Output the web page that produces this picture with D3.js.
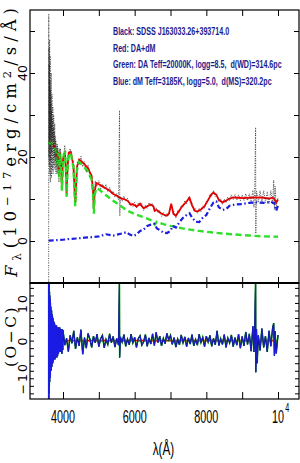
<!DOCTYPE html>
<html>
<head>
<meta charset="utf-8">
<script src="https://cdn.jsdelivr.net/npm/d3@7"></script>
<style>
  body { margin: 0; background: #fff; }
  svg { display: block; }
</style>
</head>
<body>
<svg id="chart" width="300" height="463"></svg>
<script>
// ---- data ----
const wavelengthDomain = [3079, 10586];
const fluxDomain = [-10, 55];
const residualDomain = [-15.5, 15.3];

const wavelengthTicks = [4000, 5000, 6000, 7000, 8000, 9000, 10000];
const wavelengthLabels = [4000, 6000, 8000, 10000];
const fluxTicks = [0, 10, 20, 30, 40, 50];
const fluxLabels = [0, 20, 40];
const residualTicks = [-14, -12, -10, -8, -6, -4, -2, 0, 2, 4, 6, 8, 10, 12, 14];
const residualLabels = [-10, 0, 10];

const legendLines = [
  'Black: SDSS J163033.26+393714.0',
  'Red: DA+dM',
  'Green: DA Teff=20000K, logg=8.5,  d(WD)=314.6pc',
  'Blue: dM Teff=3185K, logg=5.0,  d(MS)=320.2pc'
];

// DA white dwarf model (green dashed)
const daModel = [
  [3600, 23], [3650, 23.5], [3700, 23], [3750, 22.5], [3800, 21.5], [3835, 18], [3860, 21],
  [3889, 15], [3920, 21], [3970, 12], [4020, 20.5], [4060, 21], [4080, 17], [4101, 10.5],
  [4125, 17], [4160, 20.8], [4220, 20.8], [4290, 17.5], [4340, 8.3], [4390, 17], [4450, 18.8],
  [4550, 18], [4700, 16.5], [4800, 14.5], [4840, 11], [4861, 6.5], [4885, 11], [4930, 12.6],
  [5000, 12.3], [5200, 10.9], [5400, 9.6], [5600, 8.4], [5800, 7.2], [6000, 6.4], [6300, 5.5],
  [6500, 4.8], [6563, 3.9], [6620, 4.6], [6800, 4.0], [7000, 3.6], [7400, 2.9], [7800, 2.4],
  [8200, 2.0], [8700, 1.6], [9200, 1.3], [9600, 1.1], [10000, 1.0]
];

// dM model (blue dash-dot)
const dmModel = [
  [3600, 0.1], [3800, 0.2], [4000, 0.3], [4200, 0.5], [4400, 0.6], [4600, 0.8], [4800, 0.9],
  [5000, 1.1], [5200, 1.6], [5400, 1.3], [5500, 1.5], [5650, 1.8], [5770, 2.1], [5850, 1.6],
  [5950, 1.2], [6050, 1.5], [6150, 2.4], [6250, 2.7], [6350, 3.6], [6450, 3.9], [6550, 4.1],
  [6620, 3.0], [6700, 2.6], [6800, 2.0], [6900, 1.9], [7000, 2.4], [7060, 3.6], [7150, 3.2],
  [7250, 4.5], [7350, 5.5], [7450, 6.2], [7530, 6.6], [7600, 5.6], [7700, 4.6], [7800, 4.5],
  [7900, 5.5], [8000, 6.2], [8100, 7.8], [8200, 9.2], [8280, 9.4], [8350, 8.0], [8450, 7.4],
  [8550, 7.6], [8650, 8.4], [8800, 8.7], [9000, 8.8], [9200, 9.1], [9400, 9.2], [9600, 9.1],
  [9800, 9.3], [9900, 9.0], [9950, 7.2], [10000, 8.5]
];

// DA+dM composite fit (red)
const fitModel = [
  [3620, 23.2], [3660, 23.6], [3700, 23.2], [3750, 22.6], [3800, 21.6], [3835, 18.3], [3860, 21.1],
  [3889, 15.3], [3920, 21.1], [3950, 17], [3970, 12.5], [4000, 19.5], [4050, 21.2], [4080, 17.4],
  [4101, 11], [4125, 17.4], [4160, 21.1], [4220, 21.2], [4290, 17.9], [4340, 8.9], [4390, 17.6],
  [4450, 19.4], [4550, 18.7], [4700, 17.3], [4800, 15.4], [4840, 11.9], [4861, 7.4], [4885, 11.9],
  [4930, 13.8], [5000, 13.5], [5100, 13.0], [5200, 12.5], [5300, 12], [5400, 11.2], [5500, 10.8],
  [5600, 10.2], [5700, 10.0], [5800, 9.6], [5850, 9.1], [5900, 8.6], [5950, 8.8], [6000, 8.5],
  [6050, 8.2], [6100, 8.5], [6150, 8.9], [6200, 8.3], [6250, 7.8], [6300, 8.0], [6400, 8.5],
  [6450, 8.7], [6520, 8.3], [6563, 7.2], [6620, 7.4], [6700, 6.8], [6800, 6.3], [6900, 6.0],
  [6960, 6.6], [7020, 8.9], [7080, 6.5], [7150, 6.0], [7250, 7.3], [7350, 8.5], [7450, 9.4],
  [7530, 10.3], [7600, 8.5], [7680, 7.2], [7750, 7.0], [7850, 7.5], [7950, 8.3], [8050, 9.8],
  [8150, 11.2], [8200, 11.5], [8280, 11.0], [8350, 9.8], [8450, 9.2], [8550, 9.6], [8650, 10.1],
  [8750, 10.4], [8900, 10.3], [9000, 10.2], [9200, 10.3], [9400, 10.4], [9600, 10.3], [9750, 10.1],
  [9850, 10.3], [9900, 10.0], [9950, 9.2], [10000, 9.9]
];

// observed SDSS spectrum (black dotted)
const observed = [
  [3598, -30], [3602, 54], [3606, 20], [3610, 46], [3614, 18], [3618, 42], [3622, 24], [3626, 48],
  [3630, 16], [3634, 38], [3638, 22], [3642, 44], [3646, 14], [3650, 36], [3655, 19], [3660, 33],
  [3665, 26], [3670, 40], [3675, 15], [3680, 31], [3686, 21], [3692, 35], [3698, 17], [3704, 29],
  [3710, 24], [3716, 32], [3722, 16], [3728, 27], [3734, 22], [3740, 30], [3747, 18], [3754, 26],
  [3761, 20], [3768, 28], [3775, 17], [3782, 25], [3790, 19], [3798, 24], [3806, 16], [3814, 23],
  [3822, 18], [3830, 22], [3838, 16], [3846, 23], [3854, 19], [3862, 22], [3870, 17], [3878, 20],
  [3886, 14], [3894, 18], [3902, 18], [3910, 22], [3918, 20], [3926, 22], [3934, 19], [3942, 17],
  [3950, 18.0], [4000, 18.3], [4050, 22.8], [4100, 12.1], [4150, 19.1], [4200, 22.0], [4250, 19.6],
  [4300, 18.3], [4350, 9.0], [4400, 18.7], [4450, 18.2], [4500, 20.2], [4550, 17.7], [4600, 18.9],
  [4650, 16.3], [4700, 18.1], [4750, 15.4], [4800, 16.0], [4850, 8.8], [4900, 14.3], [4950, 13.2],
  [5000, 14.4], [5050, 12.4], [5100, 13.6], [5150, 12.4], [5200, 13.5], [5250, 11.8], [5300, 12.8],
  [5350, 11.2], [5400, 11.9], [5450, 10.4], [5500, 11.3], [5550, 9.8], [5577, 31], [5585, 6.0],
  [5600, 10.6], [5650, 9.5], [5700, 10.7], [5750, 9.5], [5800, 10.2], [5850, 8.6], [5900, 9.1],
  [5950, 8.2], [6000, 9.2], [6050, 7.8], [6100, 9.0], [6150, 8.3], [6200, 8.9], [6250, 7.3],
  [6300, 8.6], [6350, 7.8], [6400, 9.1], [6450, 8.2], [6500, 8.9], [6550, 6.9], [6600, 7.9],
  [6650, 6.7], [6700, 7.3], [6750, 5.9], [6800, 6.8], [6850, 5.7], [6900, 6.6], [6950, 6.1],
  [7000, 8.4], [7050, 7.9], [7100, 6.8], [7150, 5.5], [7200, 7.2], [7250, 6.8], [7300, 8.5],
  [7350, 8.1], [7400, 9.6], [7450, 8.9], [7500, 10.4], [7550, 9.2], [7600, 9.1], [7650, 7.1],
  [7700, 7.7], [7750, 6.6], [7800, 7.8], [7850, 7.0], [7900, 8.4], [7950, 7.8], [8000, 9.5],
  [8050, 9.3], [8100, 11.2], [8150, 10.7], [8200, 12.0], [8250, 10.6], [8300, 11.0], [8350, 9.3],
  [8400, 10.0], [8450, 8.7], [8500, 10.0], [8550, 9.1], [8600, 10.5], [8650, 9.6], [8700, 11.0],
  [8750, 9.9], [8800, 11.0], [8850, 9.7], [8900, 11.0], [8950, 9.6], [9000, 11.0], [9050, 9.6],
  [9100, 11.3], [9150, 9.6], [9200, 11.3], [9250, 9.3], [9300, 12.0], [9330, 8.0], [9350, 12.8],
  [9375, 27], [9380, 1.8], [9400, 11.9], [9450, 9.3], [9500, 12.0], [9550, 9.3], [9600, 12.0],
  [9650, 9.2], [9700, 11.7], [9750, 8.8], [9800, 12.0], [9850, 8.8], [9880, 14.5], [9900, 7.5],
  [9920, 13], [9950, 8.2], [10000, 10.4]
];

// O-C residuals
const residuals = [
  [3598, -40], [3600, 40], [3604, -16], [3608, 16], [3612, -14], [3616, 15], [3620, -12], [3624, 13],
  [3628, -11], [3632, 12], [3636, -10], [3640, 11], [3645, -9], [3650, 10], [3655, -8], [3660, 9],
  [3665, -8], [3670, 8], [3676, -7], [3682, 8], [3688, -7], [3694, 7], [3700, -6], [3707, 6.5],
  [3714, -6], [3721, 6], [3728, -5.5], [3735, 5], [3742, -5], [3750, 5], [3758, -4.5], [3766, 4.5],
  [3774, -5], [3782, 4], [3790, -4.5], [3800, 4], [3810, -4], [3820, 4], [3830, -4.5], [3840, 3.5],
  [3850, -4], [3862, 3.5], [3874, -3.5], [3886, 3.5], [3898, -3], [3910, 3.5], [3922, -3], [3934, 3],
  [3946, -3], [3958, 3], [3970, -3.5], [3982, 3], [3994, -2.5],
  [4000, 2.8], [4050, -1.2], [4100, 0.6], [4150, -2.9], [4200, 1.4], [4250, -0.7], [4300, 2.6],
  [4350, -2.2], [4400, 0.9], [4450, -1.4], [4500, 2.9], [4550, -3.6], [4600, 0.8], [4650, -2.0],
  [4700, 1.9], [4750, 0.4], [4800, -1.8], [4850, 1.2], [4900, -0.6], [4950, 1.7], [5000, -1.6],
  [5050, 0.5], [5100, 1.4], [5150, -1.9], [5200, 0.3], [5250, -1.0], [5300, 1.8], [5350, -0.5],
  [5400, 1.1], [5450, -1.7], [5500, 0.6], [5550, -1.2], [5575, 15.5], [5580, -4.5], [5600, 1.0],
  [5650, -0.4], [5700, 1.6], [5750, -1.5], [5800, 0.4], [5850, -1.1], [5900, 1.7], [5950, -0.6],
  [6000, 0.9], [6050, -1.8], [6100, 0.5], [6150, 1.3], [6200, -1.2], [6250, -0.3], [6300, 1.6],
  [6350, -1.5], [6400, 0.7], [6450, -0.9], [6500, 1.8], [6550, -1.3], [6600, 2.2], [6650, -0.5],
  [6700, 1.2], [6750, -1.4], [6800, 0.6], [6850, -0.8], [6900, 1.9], [6950, 0.2], [7000, 1.4],
  [7050, -1.0], [7100, 0.8], [7150, -1.7], [7200, 0.4], [7250, -1.1], [7300, 1.5], [7350, -0.6],
  [7400, 1.0], [7450, -1.6], [7500, 0.7], [7550, -0.9], [7600, 1.6], [7650, -1.4], [7700, 0.3],
  [7750, -1.2], [7800, 1.7], [7850, -0.5], [7900, 0.9], [7950, -1.6], [8000, 1.2], [8050, -0.4],
  [8100, 1.4], [8150, -1.5], [8200, 0.6], [8250, -1.1], [8300, 2.6], [8350, -1.3], [8400, 0.5],
  [8450, -1.0], [8500, 1.6], [8550, -1.8], [8600, 0.7], [8650, -0.6], [8700, 1.5], [8750, -1.6],
  [8800, 0.8], [8850, -1.2], [8900, 1.7], [8950, -2.0], [9000, 1.1], [9050, -1.4], [9100, 2.3],
  [9150, -1.0], [9200, 1.8], [9250, -2.8], [9300, 3.8], [9330, -3.0], [9350, 2.5], [9375, 16],
  [9380, -8.4], [9400, 3.0], [9420, -6.0], [9450, 1.4], [9500, -2.6], [9550, 3.2], [9600, -1.8],
  [9650, 1.2], [9700, -3.0], [9750, 2.6], [9800, -1.5], [9850, 3.4], [9880, 4.6], [9900, -4.0],
  [9920, 2.5], [9950, -3.4], [10000, 1.5]
];
const fitResidual = [[3600, 0], [10000, 0]];

// ---- layout ----
const plotLeft = 30;
const plotRight = 299;
const plotTop = 10;
const plotMid = 283;
const plotBottom = 399;

const svg = d3.select('#chart');

const x = d3.scaleLinear().domain(wavelengthDomain).range([plotLeft, plotRight]);
const yFlux = d3.scaleLinear().domain(fluxDomain).range([plotMid, plotTop]);
const yRes = d3.scaleLinear().domain(residualDomain).range([plotBottom, plotMid]);

const defs = svg.append('defs');
defs.append('clipPath').attr('id', 'clip-top')
  .append('rect').attr('x', plotLeft).attr('y', plotTop)
  .attr('width', plotRight - plotLeft).attr('height', plotMid - plotTop);
defs.append('clipPath').attr('id', 'clip-bottom')
  .append('rect').attr('x', plotLeft).attr('y', plotMid)
  .attr('width', plotRight - plotLeft).attr('height', plotBottom - plotMid);

const lineFor = yScale => d3.line().x(d => x(d[0])).y(d => yScale(d[1]));

// top panel curves
const gTop = svg.append('g').attr('clip-path', 'url(#clip-top)');

gTop.append('path').datum(observed)
  .attr('d', lineFor(yFlux))
  .attr('fill', 'none').attr('stroke', '#2a2a2a').attr('stroke-width', 0.8)
  .attr('stroke-dasharray', '0.8,1.5');

gTop.append('path').datum(fitModel)
  .attr('d', lineFor(yFlux))
  .attr('fill', 'none').attr('stroke', '#ee0000').attr('stroke-width', 1.8);

gTop.append('path').datum(daModel)
  .attr('d', lineFor(yFlux))
  .attr('fill', 'none').attr('stroke', '#2fe02a').attr('stroke-width', 2.4)
  .attr('stroke-dasharray', '6,3.5');

gTop.append('path').datum(dmModel)
  .attr('d', lineFor(yFlux))
  .attr('fill', 'none').attr('stroke', '#1e1ee0').attr('stroke-width', 2.2)
  .attr('stroke-dasharray', '5,2.5,1.5,2.5');

// a sparser pass of the observed dots over the fit, as in the original
gTop.append('path').datum(observed)
  .attr('d', lineFor(yFlux))
  .attr('fill', 'none').attr('stroke', '#222').attr('stroke-width', 0.6)
  .attr('stroke-dasharray', '0.6,3');

// bottom panel residuals
const gBot = svg.append('g').attr('clip-path', 'url(#clip-bottom)');

gBot.append('path').datum(fitResidual)
  .attr('d', lineFor(yRes))
  .attr('fill', 'none').attr('stroke', '#e30000').attr('stroke-width', 1.6);

gBot.append('path').datum(residuals)
  .attr('d', lineFor(yRes))
  .attr('fill', 'none').attr('stroke', '#2fe02a').attr('stroke-width', 1.6);

gBot.append('path').datum(residuals)
  .attr('d', lineFor(yRes))
  .attr('fill', 'none').attr('stroke', '#111').attr('stroke-width', 1.2);

gBot.append('path').datum(residuals)
  .attr('d', lineFor(yRes))
  .attr('fill', 'none').attr('stroke', '#1c1ce8').attr('stroke-width', 0.9);

// ---- ticks (inward, no labels) ----
function tickOnly(g, axis) {
  g.call(axis);
  g.select('.domain').remove();
  g.selectAll('text').remove();
  g.selectAll('line').attr('stroke', '#000');
}

const xTick = len => d3.axisBottom(x).tickValues(wavelengthTicks).tickSize(-len);
const xTickTop = len => d3.axisTop(x).tickValues(wavelengthTicks).tickSize(-len);

svg.append('g').attr('transform', `translate(0,${plotMid})`).call(g => tickOnly(g, xTick(6)));
svg.append('g').attr('transform', `translate(0,${plotTop})`).call(g => tickOnly(g, xTickTop(6)));
svg.append('g').attr('transform', `translate(0,${plotBottom})`).call(g => tickOnly(g, xTick(7)));
svg.append('g').attr('transform', `translate(0,${plotMid})`).call(g => tickOnly(g, xTickTop(5)));

svg.append('g').attr('transform', `translate(${plotLeft},0)`)
  .call(g => tickOnly(g, d3.axisLeft(yFlux).tickValues(fluxTicks).tickSize(-5)));
svg.append('g').attr('transform', `translate(${plotRight},0)`)
  .call(g => tickOnly(g, d3.axisRight(yFlux).tickValues(fluxTicks).tickSize(-5)));
svg.append('g').attr('transform', `translate(${plotLeft},0)`)
  .call(g => tickOnly(g, d3.axisLeft(yRes).tickValues(residualTicks).tickSize(-4)));
svg.append('g').attr('transform', `translate(${plotRight},0)`)
  .call(g => tickOnly(g, d3.axisRight(yRes).tickValues(residualTicks).tickSize(-4)));

// frames
svg.append('rect').attr('x', plotLeft).attr('y', plotTop)
  .attr('width', plotRight - plotLeft).attr('height', plotMid - plotTop)
  .attr('fill', 'none').attr('stroke', '#000').attr('stroke-width', 1.2);
svg.append('rect').attr('x', plotLeft).attr('y', plotMid)
  .attr('width', plotRight - plotLeft).attr('height', plotBottom - plotMid)
  .attr('fill', 'none').attr('stroke', '#000').attr('stroke-width', 1.2);
svg.append('line').attr('x1', plotLeft).attr('x2', plotRight).attr('y1', plotMid).attr('y2', plotMid)
  .attr('stroke', '#000').attr('stroke-width', 2.2);

// ---- tick labels ----
const minus = d => (d < 0 ? '\u2212' + Math.abs(d) : String(d));

svg.append('g').selectAll('text').data(fluxLabels).join('text')
  .attr('transform', d => `translate(${plotLeft - 3},${yFlux(d)}) rotate(-90)`)
  .attr('text-anchor', 'middle')
  .attr('font-family', 'DejaVu Sans').attr('font-size', 12.5)
  .text(minus);

svg.append('g').selectAll('text').data(residualLabels).join('text')
  .attr('transform', d => `translate(${plotLeft - 3},${yRes(d)}) rotate(-90)`)
  .attr('text-anchor', 'middle')
  .attr('font-family', 'DejaVu Sans').attr('font-size', 12.5)
  .attr('letter-spacing', 2)
  .text(minus);

const xLab = svg.append('g').selectAll('g').data(wavelengthLabels).join('g')
  .attr('transform', d => `translate(${x(d)},423) scale(0.6,1)`)
  .attr('font-family', 'Liberation Sans').attr('font-size', 18);
xLab.filter(d => d !== 10000).append('text').attr('text-anchor', 'middle').text(d => d);
const tenK = xLab.filter(d => d === 10000);
tenK.append('text').attr('text-anchor', 'middle').text('10');
tenK.append('text').attr('x', 12).attr('y', -11).attr('font-size', 12).text('4');

svg.append('text')
  .attr('transform', `translate(${(plotLeft + plotRight) / 2 - 1},455) scale(0.62,1)`)
  .attr('text-anchor', 'middle')
  .attr('font-family', 'Liberation Sans').attr('font-size', 19)
  .text('\u03bb(\u00c5)');

// ---- axis titles (rotated, stretched to the measured length) ----
function fitSpacing(textSel, target) {
  const node = textSel.node();
  const len = node.getComputedTextLength();
  const n = node.textContent.length;
  textSel.attr('letter-spacing', (target - len) / n);
}

const yTitle = svg.append('text')
  .attr('transform', 'translate(16.5,277) rotate(-90)')
  .attr('font-family', 'DejaVu Serif').attr('font-size', 16.5);
yTitle.append('tspan').attr('font-style', 'italic').text('F');
yTitle.append('tspan').attr('font-size', '70%').attr('dy', '0.35em').text('\u03bb');
yTitle.append('tspan').attr('dy', '-0.25em').text('(10');
yTitle.append('tspan').attr('font-size', '70%').attr('dy', '-0.5em').text('\u221217');
yTitle.append('tspan').attr('dy', '0.35em').text('erg/cm');
yTitle.append('tspan').attr('font-size', '70%').attr('dy', '-0.5em').text('2');
yTitle.append('tspan').attr('dy', '0.35em').text('/s/\u00c5)');
fitSpacing(yTitle, 274);

const resTitle = svg.append('text')
  .attr('transform', 'translate(15.5,336) rotate(-90)')
  .attr('text-anchor', 'middle')
  .attr('font-family', 'DejaVu Serif').attr('font-size', 15.5)
  .text('(O\u2212C)');
fitSpacing(resTitle, 62);

// ---- legend (horizontally condensed like the original) ----
const legend = svg.append('g')
  .attr('font-family', 'Liberation Sans').attr('font-size', 11.5).attr('font-weight', 'bold')
  .attr('fill', '#1c1c8e');
const legendText = legend.selectAll('text').data(legendLines).join('text')
  .attr('xml:space', 'preserve')
  .style('white-space', 'pre')
  .text(d => d);
const squeeze = 169 / legendText.filter((d, i) => i === 2).node().getComputedTextLength();
legendText.attr('transform', (d, i) => `translate(113,${35 + i * 16.7}) scale(${squeeze},1)`);
</script>
</body>
</html>
